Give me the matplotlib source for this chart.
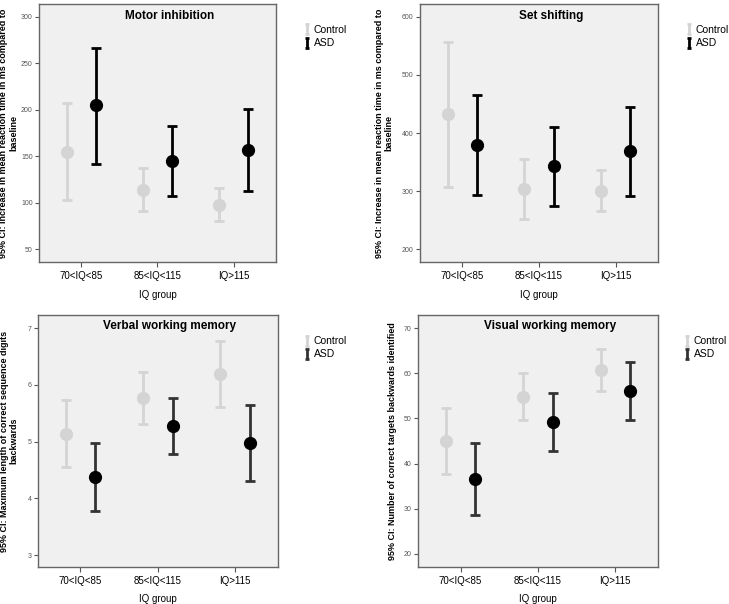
import matplotlib
matplotlib.use('Agg')
import matplotlib.pyplot as plt
from matplotlib.path import Path
from matplotlib.lines import Line2D

plt.rcParams['font.family'] = ['Liberation Sans', 'DejaVu Sans']

groups = ['70<IQ<85', '85<IQ<115', 'IQ>115']

# motor inhibition
motor_ctrl = [155, 114, 98]
motor_ctrl_lo = [103, 91, 80]
motor_ctrl_hi = [207, 137, 116]
motor_asd = [205, 145, 157]
motor_asd_lo = [142, 107, 113]
motor_asd_hi = [267, 183, 201]

# set shifting
shift_ctrl = [433, 304, 301]
shift_ctrl_lo = [308, 253, 266]
shift_ctrl_hi = [557, 355, 337]
shift_asd = [380, 343, 369]
shift_asd_lo = [294, 275, 292]
shift_asd_hi = [466, 411, 445]

# verbal working memory
verbal_ctrl = [5.14, 5.76, 6.19]
verbal_ctrl_lo = [4.55, 5.31, 5.61]
verbal_ctrl_hi = [5.73, 6.22, 6.78]
verbal_asd = [4.37, 5.28, 4.98]
verbal_asd_lo = [3.78, 4.78, 4.31]
verbal_asd_hi = [4.97, 5.77, 5.65]

# visual working memory
visual_ctrl = [45.0, 54.8, 60.7]
visual_ctrl_lo = [37.7, 49.6, 56.1]
visual_ctrl_hi = [52.4, 60.1, 65.3]
visual_asd = [36.6, 49.2, 56.1]
visual_asd_lo = [28.5, 42.7, 49.6]
visual_asd_hi = [44.6, 55.6, 62.5]

CTRL = '#d4d4d4'
ASD_TOP = '#000000'
ASD_BOT = '#333333'

# I-beam marker for the legend
ibeam = Path([(-0.5, -1), (0.5, -1), (0, -1), (0, 1), (-0.5, 1), (0.5, 1)],
             [Path.MOVETO, Path.LINETO, Path.MOVETO, Path.LINETO, Path.MOVETO, Path.LINETO])


def panel(fig, rect, title, ylabel, ticks, ylim, ctrl, asd, asd_col, leg_xy, ylab_x):
    ax = fig.add_axes(rect)
    ax.set_facecolor('#f0f0f0')
    x = range(len(groups))
    off = 0.19
    for vals, col, d in [(ctrl, CTRL, -off), (asd, asd_col, off)]:
        m, lo, hi = vals
        xs = [i + d for i in x]
        err = [[a - b for a, b in zip(m, lo)], [b - a for a, b in zip(m, hi)]]
        ax.errorbar(xs, m, yerr=err, fmt='none', ecolor=col, elinewidth=2.0,
                    capsize=3.8, capthick=2.0)
        mcol = col if col == CTRL else 'black'
        ax.plot(xs, m, 'o', color=mcol, markersize=8.5, zorder=3)
    ax.set_xlim(-0.55, 2.55)
    ax.set_ylim(*ylim)
    ax.set_yticks(ticks)
    ax.set_xticks(list(x))
    ax.set_xticklabels(groups, fontsize=7)
    ax.tick_params(axis='y', labelsize=5, colors='#555555', length=3, width=0.8, pad=1.5)
    ax.tick_params(axis='x', length=3.6, width=0.8, color='#555555', pad=3)
    for t in ax.get_xticklabels():
        t.set_color('black')
    for s in ax.spines.values():
        s.set_color('#666666')
        s.set_linewidth(1)
    ax.set_xlabel('IQ group', fontsize=7, labelpad=6)
    ax.set_ylabel(ylabel, fontsize=6.5, fontweight='bold', linespacing=1.1)
    ax.yaxis.set_label_coords(ylab_x, 0.5)
    ax.text(0.55, 0.955, title, transform=ax.transAxes, ha='center', va='center',
            fontsize=8.5, fontweight='bold')
    handles = [Line2D([], [], linestyle='none', marker=ibeam, markersize=6.5,
                      markeredgewidth=2.0, color=CTRL),
               Line2D([], [], linestyle='none', marker=ibeam, markersize=6.5,
                      markeredgewidth=2.0, color=asd_col)]
    fig.legend(handles, ['Control', 'ASD'], loc='upper left', bbox_to_anchor=leg_xy,
               frameon=False, fontsize=7.5, handlelength=0.6, handletextpad=0.35,
               labelspacing=0.3, borderpad=0)
    return ax


fig = plt.figure(figsize=(7.29, 6.04), dpi=100)

panel(fig, [0.0535, 0.566, 0.325, 0.4275], 'Motor inhibition',
      '95% CI: Increase in mean reaction time in ms compared to\nbaseline',
      [50, 100, 150, 200, 250, 300], (36, 314),
      (motor_ctrl, motor_ctrl_lo, motor_ctrl_hi), (motor_asd, motor_asd_lo, motor_asd_hi),
      ASD_TOP, (0.410, 0.967), -0.088)

panel(fig, [0.576, 0.566, 0.3265, 0.4275], 'Set shifting',
      '95% CI: Increase in mean reaction time in ms compared to\nbaseline',
      [200, 300, 400, 500, 600], (178, 622),
      (shift_ctrl, shift_ctrl_lo, shift_ctrl_hi), (shift_asd, shift_asd_lo, shift_asd_hi),
      ASD_TOP, (0.934, 0.967), -0.11)

panel(fig, [0.052, 0.0613, 0.329, 0.4172], 'Verbal working memory',
      '95% CI: Maximum length of correct sequence digits\nbackwards',
      [3, 4, 5, 6, 7], (2.79, 7.23),
      (verbal_ctrl, verbal_ctrl_lo, verbal_ctrl_hi), (verbal_asd, verbal_asd_lo, verbal_asd_hi),
      ASD_BOT, (0.410, 0.452), -0.08)

panel(fig, [0.5734, 0.0613, 0.329, 0.4172], 'Visual working memory',
      '95% CI: Number of correct targets backwards identified',
      [20, 30, 40, 50, 60, 70], (17.1, 72.9),
      (visual_ctrl, visual_ctrl_lo, visual_ctrl_hi), (visual_asd, visual_asd_lo, visual_asd_hi),
      ASD_BOT, (0.931, 0.452), -0.0875)

fig.savefig('out.png', dpi=100)
